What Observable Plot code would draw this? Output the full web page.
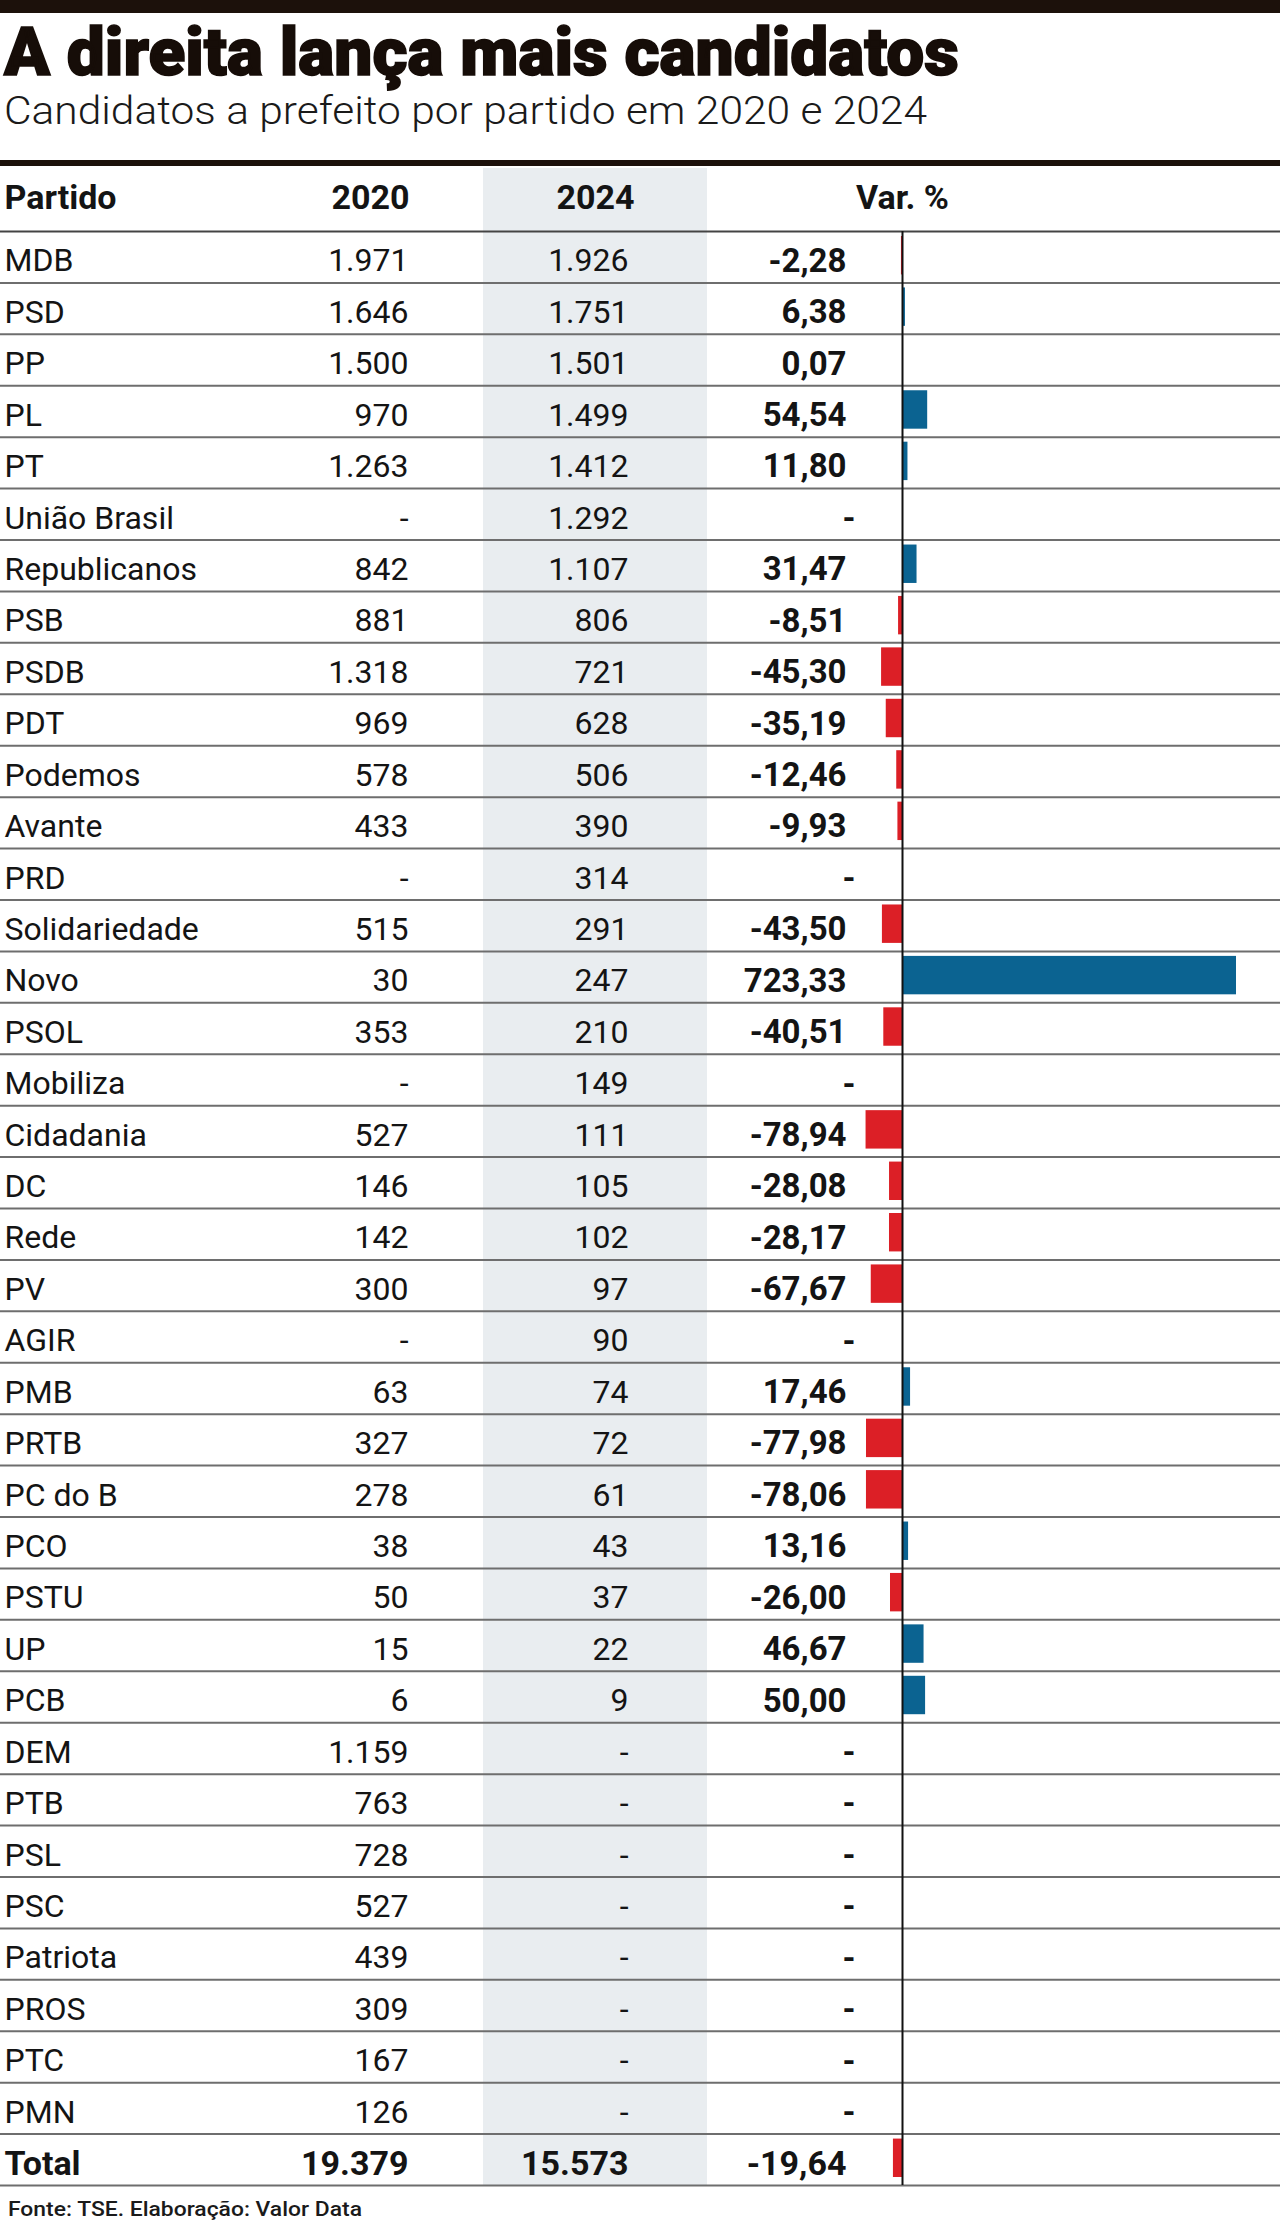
<!DOCTYPE html>
<html>
<head>
<meta charset="utf-8">
<script src="https://cdn.jsdelivr.net/npm/d3@7"></script>
<script src="https://cdn.jsdelivr.net/npm/@observablehq/plot@0.6"></script>
<style>
  body { margin: 0; background: #fff; }
  #page { position: relative; width: 1280px; height: 2225px; overflow: hidden; font-family: Roboto, "Liberation Sans", sans-serif; color: #141414; background: #fff; }
  #topbar { position: absolute; left: 0; top: 0; width: 1280px; height: 13px; background: #1c110b; }
  .fit { position: absolute; white-space: nowrap; line-height: 1; transform-origin: 0 0; display: inline-block; }
  #title { left: 4px; top: 19.5px; font-size: 66px; font-weight: 900; color: #160d08; -webkit-text-stroke: 1.6px #160d08; }
  #subtitle { left: 4px; top: 92px; font-size: 39px; font-weight: 300; color: #1a1a1a; }
  #rule { position: absolute; left: 0; top: 160px; width: 1280px; height: 6px; background: #1c110b; }
  #chart { position: absolute; left: 0; top: 166px; }
  #footer { left: 8px; top: 2199px; font-size: 21px; font-weight: 500; color: #1a1a1a; }
</style>
</head>
<body>
<div id="page">
  <div id="topbar"></div>
  <div id="title" class="fit">A direita lança mais candidatos</div>
  <div id="subtitle" class="fit">Candidatos a prefeito por partido em 2020 e 2024</div>
  <div id="rule"></div>
  <div id="chart"></div>
  <div id="footer" class="fit">Fonte: TSE. Elaboração: Valor Data</div>
</div>
<script>
// ---- Data ----
const parties = ["MDB","PSD","PP","PL","PT","União Brasil","Republicanos","PSB","PSDB","PDT","Podemos","Avante","PRD","Solidariedade","Novo","PSOL","Mobiliza","Cidadania","DC","Rede","PV","AGIR","PMB","PRTB","PC do B","PCO","PSTU","UP","PCB","DEM","PTB","PSL","PSC","Patriota","PROS","PTC","PMN"];
const cand2020 = [1971,1646,1500,970,1263,null,842,881,1318,969,578,433,null,515,30,353,null,527,146,142,300,null,63,327,278,38,50,15,6,1159,763,728,527,439,309,167,126];
const cand2024 = [1926,1751,1501,1499,1412,1292,1107,806,721,628,506,390,314,291,247,210,149,111,105,102,97,90,74,72,61,43,37,22,9,null,null,null,null,null,null,null,null];
const varPct = [-2.28,6.38,0.07,54.54,11.80,null,31.47,-8.51,-45.30,-35.19,-12.46,-9.93,null,-43.50,723.33,-40.51,null,-78.94,-28.08,-28.17,-67.67,null,17.46,-77.98,-78.06,13.16,-26.00,46.67,50.00,null,null,null,null,null,null,null,null];
const totalLabel = "Total";
const total2020 = 19379;
const total2024 = 15573;
const totalVar = -19.64;
const headers = ["Partido","2020","2024","Var. %"];

// ---- Build table ----
const loc = d3.formatLocale({decimal: ",", thousands: ".", grouping: [3], currency: ["", ""], minus: "-"});
const fInt = loc.format(",d");
const fVar = loc.format(",.2f");

const rows = parties.map((p, i) => ({party: p, a: cand2020[i], b: cand2024[i], v: varPct[i]}));
const totalRow = {party: totalLabel, a: total2020, b: total2024, v: totalVar};
const all = [...rows, totalRow];

const W = 1280, marginTop = 65, marginBottom = 3;
const bodyH = 1954;
const H = marginTop + bodyH + marginBottom;
const rowH = bodyH / all.length;

const blue = "#0b6391", red = "#dc1f26";
const txt = "#141414";
const font = "Roboto, 'Liberation Sans', sans-serif";

const shade = (index, scales, values, dims) => {
  const r = document.createElementNS("http://www.w3.org/2000/svg", "rect");
  r.setAttribute("x", 483);
  r.setAttribute("y", 2);
  r.setAttribute("width", 224);
  r.setAttribute("height", dims.height - dims.marginBottom - 2);
  r.setAttribute("fill", "#e9edf0");
  return r;
};

const rowText = (data, opts) => Plot.text(data, {y: "party", frameAnchor: "left", lineAnchor: "middle", fill: txt, ...opts});

const chart = Plot.plot({
  width: W, height: H,
  marginTop, marginBottom, marginLeft: 0, marginRight: 0,
  x: {domain: [0, d3.max(varPct)], range: [902, 1236], axis: null},
  y: {domain: all.map(d => d.party), padding: 0, round: false, axis: null},
  color: {domain: ["up", "down"], range: [blue, red]},
  style: {fontFamily: font, background: "transparent", overflow: "visible"},
  marks: [
    shade,
    Plot.barX(all.filter(d => d.v != null), {x: "v", y: "party", fill: d => d.v >= 0 ? "up" : "down", insetTop: 5, insetBottom: 8}),
    Plot.ruleY(all, {y: "party", dy: rowH / 2, stroke: "#6e6e6e", strokeWidth: 2}),
    Plot.ruleY([all[0].party], {y: d => d, dy: -rowH / 2, stroke: "#444", strokeWidth: 2}),
    Plot.ruleX([0], {stroke: "#111", strokeWidth: 2}),
    // headers
    Plot.text([headers[0]], {text: d => d, frameAnchor: "top-left", dx: 4, dy: -33, textAnchor: "start", lineAnchor: "middle", fontSize: 34, fontWeight: "bold", fill: txt}),
    Plot.text([headers[1]], {text: d => d, frameAnchor: "top-left", dx: 409, dy: -33, textAnchor: "end", lineAnchor: "middle", fontSize: 34, fontWeight: "bold", fill: txt}),
    Plot.text([headers[2]], {text: d => d, frameAnchor: "top-left", dx: 595, dy: -33, textAnchor: "middle", lineAnchor: "middle", fontSize: 34, fontWeight: "bold", fill: txt}),
    Plot.text([headers[3]], {text: d => d, frameAnchor: "top-left", dx: 902, dy: -33, textAnchor: "middle", lineAnchor: "middle", fontSize: 34, fontWeight: "bold", fill: txt}),
    // party rows
    rowText(rows, {text: "party", dx: 4, dy: 4, textAnchor: "start", fontSize: 32}),
    rowText(rows, {text: d => d.a == null ? "-" : fInt(d.a), dx: 408, dy: 4, textAnchor: "end", fontSize: 32}),
    rowText(rows, {text: d => d.b == null ? "-" : fInt(d.b), dx: 628, dy: 4, textAnchor: "end", fontSize: 32}),
    rowText(rows.filter(d => d.v != null), {text: d => fVar(d.v), dx: 846, dy: 4, textAnchor: "end", fontSize: 33, fontWeight: "bold"}),
    rowText(rows.filter(d => d.v == null), {text: () => "-", dx: 855, dy: 4, textAnchor: "end", fontSize: 33, fontWeight: "bold"}),
    // total row
    rowText([totalRow], {text: "party", dx: 4, dy: 4, textAnchor: "start", fontSize: 34, fontWeight: "bold"}),
    rowText([totalRow], {text: d => fInt(d.a), dx: 408, dy: 4, textAnchor: "end", fontSize: 34, fontWeight: "bold"}),
    rowText([totalRow], {text: d => fInt(d.b), dx: 628, dy: 4, textAnchor: "end", fontSize: 34, fontWeight: "bold"}),
    rowText([totalRow], {text: d => fVar(d.v), dx: 846, dy: 4, textAnchor: "end", fontSize: 34, fontWeight: "bold"})
  ]
});
document.getElementById("chart").appendChild(chart);

function fit(id, target) {
  const el = document.getElementById(id);
  const w = el.getBoundingClientRect().width;
  el.style.transform = `scaleX(${target / w})`;
}
fit("title", 955);
fit("subtitle", 923);
fit("footer", 354);
</script>
</body>
</html>
